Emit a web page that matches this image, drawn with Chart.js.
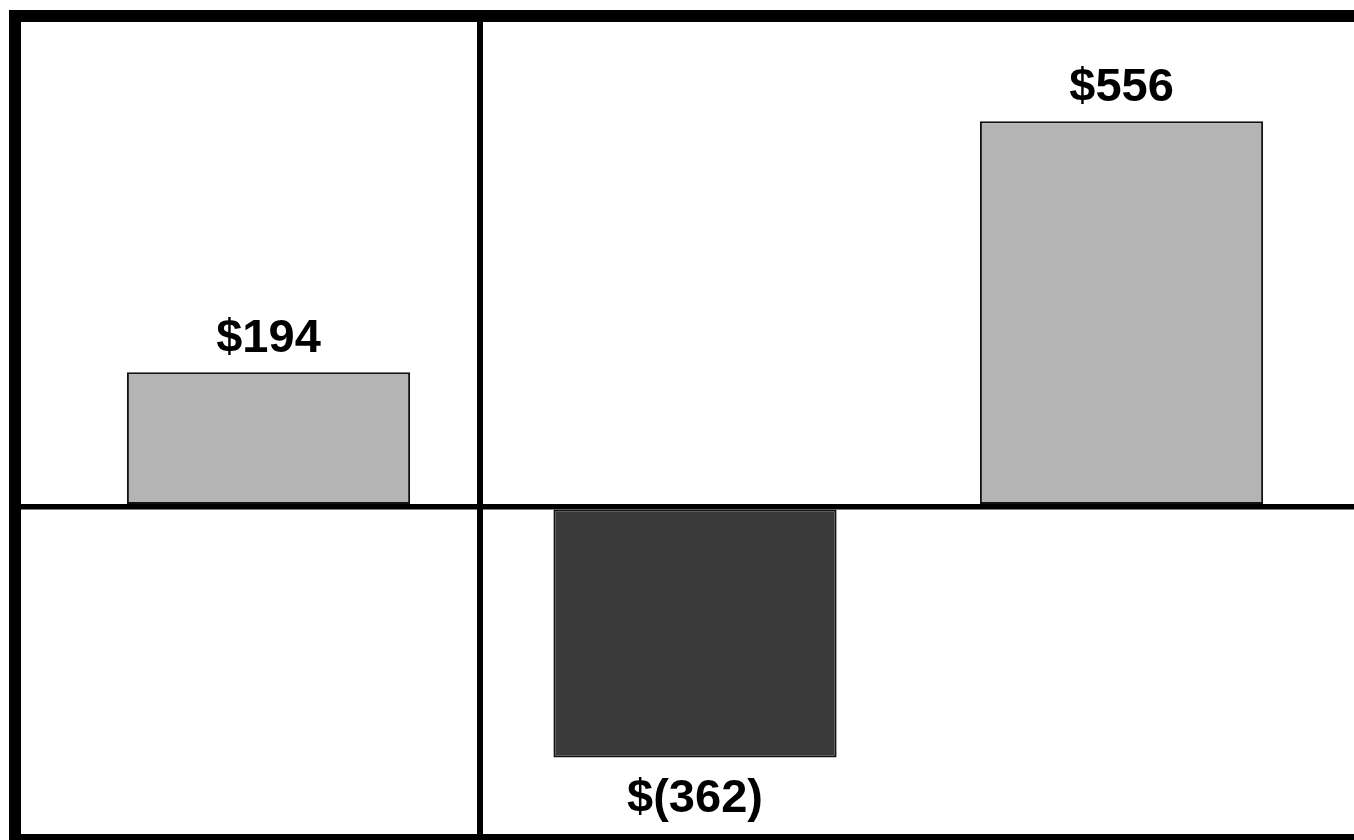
<!DOCTYPE html>
<html>
<head>
<meta charset="utf-8">
<script src="https://cdn.jsdelivr.net/npm/chart.js@4"></script>
<style>
  body { margin: 0; background: #fff; }
  #wrap { width: 1354px; height: 840px; }
</style>
</head>
<body>
<div id="wrap"><canvas id="myChart"></canvas></div>
<script>
// data
const positions = [0, 1, 2];
const values = [194, -362, 556];
const barColors = ['#b4b4b4', '#3a3a3a', '#b4b4b4'];
const zeroTicks = [0];         // horizontal zero line
const dividerTicks = [0.496];  // vertical divider between first and second bar

let money = function(v) {
  return v < 0 ? `$(${-v})` : `$${v}`;
};

// draws the $ labels above / below each bar
let valueLabels = {
  id: 'valueLabels',
  afterDatasetsDraw(chart) {
    let ctx = chart.ctx;
    let meta = chart.getDatasetMeta(0);
    ctx.save();
    ctx.font = 'bold 47px "Liberation Sans", Arial, sans-serif';
    ctx.fillStyle = '#000';
    ctx.textAlign = 'center';
    ctx.textBaseline = 'alphabetic';
    meta.data.forEach((bar, i) => {
      let v = values[i];
      let y = v < 0 ? bar.y + 54 : bar.y - 20;
      ctx.fillText(money(v), bar.x, y);
    });
    ctx.restore();
  }
};

let ctx = document.getElementById('myChart').getContext('2d');
window.chart = new Chart(ctx, {
  type: 'bar',
  data: {
    datasets: [{
      data: positions.map((p, i) => ({x: p, y: values[i]})),
      backgroundColor: barColors,
      borderColor: '#111',
      borderWidth: 2,
      borderSkipped: false,
      barPercentage: 0.664,
      categoryPercentage: 1
    }]
  },
  options: {
    responsive: true,
    maintainAspectRatio: false,
    animation: false,
    layout: { padding: { left: 15, top: 16, right: 0, bottom: -3 } },
    plugins: { legend: { display: false }, tooltip: { enabled: false } },
    scales: {
      x: {
        type: 'linear',
        position: 'bottom',
        offset: false,
        bounds: 'data',
        min: -0.5944,
        max: 2.5451,
        afterBuildTicks: (scale) => { scale.ticks = dividerTicks.map(v => ({value: v})); },
        ticks: { display: false },
        grid: { color: '#000', lineWidth: 6, drawTicks: false, offset: false },
        border: { color: '#000', width: 12 }
      },
      xTop: {
        type: 'linear',
        position: 'top',
        offset: false,
        min: -0.5944,
        max: 2.5451,
        afterBuildTicks: (scale) => { scale.ticks = []; },
        ticks: { display: false },
        grid: { display: false, drawTicks: false, offset: false },
        border: { color: '#000', width: 12 }
      },
      y: {
        position: 'left',
        min: -481,
        max: 708,
        afterBuildTicks: (scale) => { scale.ticks = zeroTicks.map(v => ({value: v})); },
        ticks: { display: false },
        grid: { color: '#000', lineWidth: 5.5, drawTicks: false },
        border: { color: '#000', width: 12 }
      }
    }
  },
  plugins: [valueLabels]
});
</script>
</body>
</html>
